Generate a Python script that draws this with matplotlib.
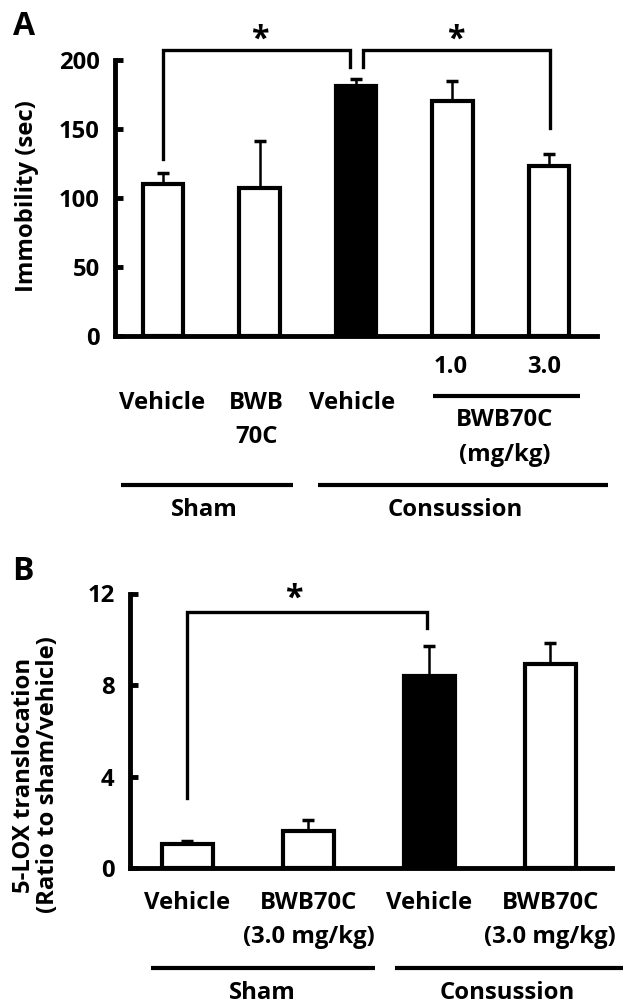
import numpy as np
import matplotlib
matplotlib.use("Agg")
import matplotlib.pyplot as plt

plt.rcParams['font.family'] = ['Open Sans', 'DejaVu Sans']
plt.rcParams['font.weight'] = 'bold'

# panel A: immobility (sec)
a_means = [110, 107, 181, 170, 123]
a_err = [8, 34, 5, 15, 9]
a_fill = ['white', 'white', 'black', 'white', 'white']
a_yticks = [0, 50, 100, 150, 200]

# panel B: 5-LOX translocation (ratio to sham/vehicle)
b_means = [1.05, 1.6, 8.4, 8.9]
b_err = [0.15, 0.5, 1.3, 0.95]
b_fill = ['white', 'white', 'black', 'white']
b_yticks = [0, 4, 8, 12]

LW = 3.0

fig = plt.figure(figsize=(6.23, 10.08), dpi=100)
axA = fig.add_axes([115/623, 1-336/1008, 482/623, 276/1008])
axB = fig.add_axes([130/623, 1-868/1008, 482/623, 274.5/1008])

# pick font size so "Vehicle" comes out ~86 px wide like the original
_t = fig.text(0, 0, 'Vehicle', fontsize=10, fontweight='bold')
_w = _t.get_window_extent(renderer=fig.canvas.get_renderer()).width
_t.remove()
FS = 10*86/_w


def style(ax, ticks, ylim, xlim):
    for s in ['top', 'right']:
        ax.spines[s].set_visible(False)
    for s in ['left', 'bottom']:
        ax.spines[s].set_linewidth(3.5)
    ax.set_ylim(*ylim)
    ax.set_xlim(*xlim)
    ax.set_yticks(ticks)
    ax.set_xticks([])
    ax.tick_params(axis='y', direction='in', length=6, width=3.5, pad=11, labelsize=FS)
    for t in ax.get_yticklabels():
        t.set_fontweight('bold')


def bars(ax, means, err, fill):
    x = np.arange(len(means))
    ax.bar(x, means, width=0.42, color=fill, edgecolor='black', linewidth=LW, zorder=3)
    ax.errorbar(x, means, yerr=[np.zeros(len(err)), err], fmt='none', ecolor='black',
                elinewidth=1.8, capsize=4, capthick=2.5, zorder=2)


def line(ax, xs, ys):
    ax.plot(xs, ys, color='black', lw=2.4, clip_on=False, solid_joinstyle='miter', zorder=4)


def txt(ax, x, y, s, **kw):
    ax.text(x, y, s, transform=ax.get_xaxis_transform(), ha='center', va='center',
            fontsize=FS, fontweight='bold', **kw)


def gline(ax, x0, x1, y):
    ax.plot([x0, x1], [y, y], color='black', lw=3, clip_on=False,
            transform=ax.get_xaxis_transform(), solid_capstyle='butt')


# ---- A ----
bars(axA, a_means, a_err, a_fill)
style(axA, a_yticks, (0, 200), (-0.5, 4.5))
fig.text(27/623, 1-196/1008, 'Immobility (sec)', rotation=90, ha='center', va='center',
         fontsize=FS, fontweight='bold')
line(axA, [0, 0, 1.94, 1.94], [128, 207, 207, 195])
line(axA, [2.07, 2.07, 4.01, 4.01], [195, 207, 207, 151])
for xs in [1.0, 3.03]:
    axA.text(xs, 214, '*', ha='center', va='center', fontsize=FS*1.35, fontweight='bold')

txt(axA, 2.98, -0.112, '1.0')
txt(axA, 3.95, -0.112, '3.0')
gline(axA, 2.80, 4.32, -0.217)
txt(axA, -0.01, -0.243, 'Vehicle')
txt(axA, 0.97, -0.243, 'BWB')
txt(axA, 0.97, -0.366, '70C')
txt(axA, 1.96, -0.243, 'Vehicle')
txt(axA, 3.54, -0.304, 'BWB70C')
txt(axA, 3.54, -0.431, '(mg/kg)')
gline(axA, -0.44, 1.35, -0.540)
gline(axA, 1.61, 4.61, -0.540)
txt(axA, 0.43, -0.630, 'Sham')
txt(axA, 3.03, -0.630, 'Consussion')

# ---- B ----
bars(axB, b_means, b_err, b_fill)
style(axB, b_yticks, (0, 12), (-0.475, 3.51))
fig.text(36/623, 1-775/1008, '5-LOX translocation\n(Ratio to sham/vehicle)', rotation=90,
         ha='center', va='center', fontsize=FS, fontweight='bold', linespacing=1.0)
line(axB, [0, 0, 1.98, 1.98], [3.06, 11.2, 11.2, 10.5])
axB.text(0.88, 11.75, '*', ha='center', va='center', fontsize=FS*1.35, fontweight='bold')

txt(axB, 0, -0.128, 'Vehicle')
txt(axB, 1.0, -0.128, 'BWB70C')
txt(axB, 1.0, -0.250, '(3.0 mg/kg)')
txt(axB, 2.0, -0.128, 'Vehicle')
txt(axB, 3.0, -0.128, 'BWB70C')
txt(axB, 3.0, -0.250, '(3.0 mg/kg)')
gline(axB, -0.30, 1.55, -0.364)
gline(axB, 1.72, 3.60, -0.364)
txt(axB, 0.62, -0.455, 'Sham')
txt(axB, 2.64, -0.455, 'Consussion')

fig.text(13/623, 1-35/1008, 'A', fontsize=23, fontweight='bold', ha='left', va='baseline')
fig.text(12/623, 1-580/1008, 'B', fontsize=23, fontweight='bold', ha='left', va='baseline')

fig.savefig('out.png', dpi=100)
